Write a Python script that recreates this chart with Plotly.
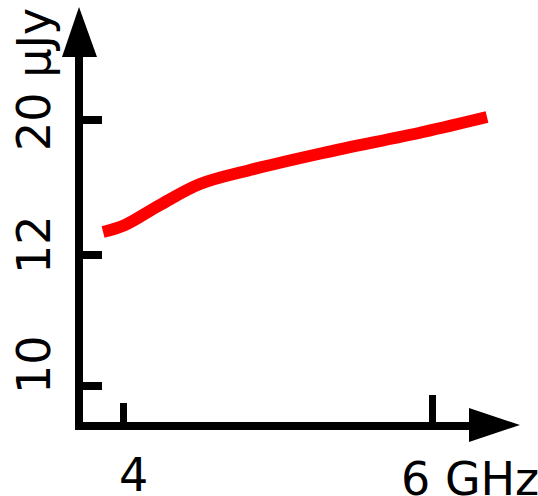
import plotly.graph_objects as go

# Data (schematic: x in GHz, y in vertical plot units)
freq_ghz = [3.871, 4.013, 4.239, 4.498, 4.822, 5.294, 5.942, 6.356]
flux_level = [190, 197, 217, 238, 252, 269, 290, 305]

x_tick_vals = [4, 6]
y_tick_vals = [36, 167, 302]
y_tick_text = ["10", "12", "20 μJy"]
x_tick_text = ["4", "6 GHz"]

FONT = "DejaVu Sans"
W, H = 538, 496
L, R, T, B = 83, 0, 57, 74
XR = [3.7411, 6.6861]

fig = go.Figure()
fig.add_trace(go.Scatter(
    x=freq_ghz, y=flux_level, mode="lines",
    line=dict(color="#ff0000", width=12, shape="spline", smoothing=1.0),
    hoverinfo="skip", showlegend=False,
))

fig.update_layout(
    width=W, height=H,
    margin=dict(l=L, r=R, t=T, b=B, pad=0),
    paper_bgcolor="white", plot_bgcolor="white",
    showlegend=False,
    xaxis=dict(range=XR, showgrid=False, zeroline=False, showline=False,
               tickmode="array", tickvals=x_tick_vals[:1], ticks="inside",
               ticklen=19, tickwidth=7, tickcolor="black", showticklabels=False),
    xaxis2=dict(range=XR, overlaying="x", side="bottom", anchor="y",
                showgrid=False, zeroline=False, showline=False,
                tickmode="array", tickvals=x_tick_vals[1:], ticks="inside",
                ticklen=27, tickwidth=7, tickcolor="black", showticklabels=False),
    yaxis=dict(range=[0, 365], showgrid=False, zeroline=False,
               showline=True, linewidth=8, linecolor="black",
               tickmode="array", tickvals=y_tick_vals, ticks="inside",
               ticklen=19, tickwidth=8, tickcolor="black", showticklabels=False),
)
# dummy trace so xaxis2 is drawn
fig.add_trace(go.Scatter(x=[], y=[], xaxis="x2", yaxis="y", showlegend=False))

def px2paper(px, py):
    return (px - L) / (W - L - R), (H - B - py) / (H - T - B)

# x axis line (stops at arrow head)
p0 = px2paper(75, 426); p1 = px2paper(470, 426)
fig.add_shape(type="line", xref="paper", yref="paper", x0=p0[0], y0=p0[1], x1=p1[0], y1=p1[1],
              line=dict(color="black", width=8))

# Arrow heads
ax1 = px2paper(79, 7); ax2 = px2paper(62, 57); ax3 = px2paper(97, 57)
bx1 = px2paper(520, 425); bx2 = px2paper(469, 408); bx3 = px2paper(469, 442)
for a, b, c in [(ax1, ax2, ax3), (bx1, bx2, bx3)]:
    fig.add_shape(type="path", xref="paper", yref="paper",
                  path=f"M {a[0]} {a[1]} L {b[0]} {b[1]} L {c[0]} {c[1]} Z",
                  fillcolor="black", line=dict(width=0))

# Tick labels
x_shifts = [(10, -53), (38, -57)]
for v, t, (xs, ys) in zip(x_tick_vals, x_tick_text, x_shifts):
    fig.add_annotation(x=v, y=0, xref="x", yref="y", text=t, showarrow=False,
                       xanchor="center", yanchor="middle", xshift=xs, yshift=ys,
                       font=dict(family=FONT, size=46, color="black"))

y_shifts = [21, 10, 40]
for v, t, ys in zip(y_tick_vals, y_tick_text, y_shifts):
    fig.add_annotation(x=0, y=v, xref="paper", yref="y", text=t, showarrow=False,
                       textangle=-90, xanchor="center", yanchor="middle",
                       xshift=-49, yshift=ys,
                       font=dict(family=FONT, size=46, color="black"))

fig.write_html("out.html")
